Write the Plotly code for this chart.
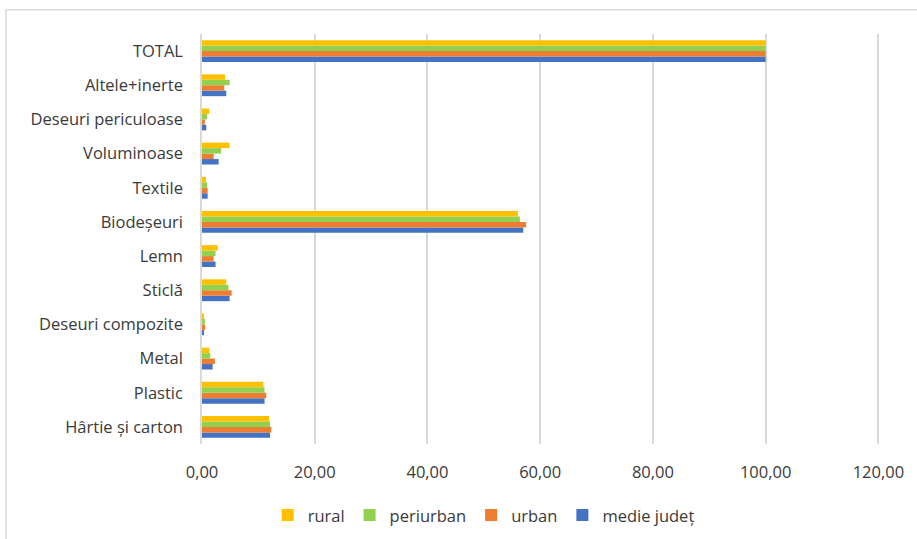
import plotly.graph_objects as go

categories = ["Hârtie și carton", "Plastic", "Metal", "Deseuri compozite", "Sticlă", "Lemn",
              "Biodeșeuri", "Textile", "Voluminoase", "Deseuri periculoase", "Altele+inerte", "TOTAL"]

rural =     [11.9, 10.9, 1.3, 0.23, 4.3, 2.8, 56.05, 0.7, 4.9, 1.3, 4.1, 100.0]
periurban = [12.07, 11.1, 1.47, 0.5, 4.7, 2.4, 56.4, 0.9, 3.4, 0.9, 4.9, 100.0]
urban =     [12.3, 11.4, 2.3, 0.57, 5.26, 2.06, 57.5, 1.0, 2.07, 0.5, 3.96, 100.0]
medie =     [12.07, 11.1, 1.88, 0.35, 4.9, 2.4, 57.0, 1.0, 2.95, 0.76, 4.3, 100.0]

series = [
    ("medie județ", medie, "#4472C4"),
    ("urban", urban, "#ED7D31"),
    ("periurban", periurban, "#92D050"),
    ("rural", rural, "#FFC000"),
]

fig = go.Figure()
for name, vals, color in series:
    fig.add_trace(go.Bar(y=categories, x=vals, name=name, orientation="h",
                         marker=dict(color=color, line=dict(width=0))))

FONT = "Open Sans"
TXT = "#3a3a3a"
FS = 16.5

# plot area: x=0 at px 202, x=120 at px 878; range extended to 121 so the 120 gridline shows
fig.update_layout(
    width=917, height=539,
    margin=dict(l=202, r=33, t=34, b=95, autoexpand=False),
    paper_bgcolor="white", plot_bgcolor="white",
    barmode="group", bargap=0.36, bargroupgap=0,
    separators=",.",
    font=dict(family=FONT, size=FS, color=TXT),
    xaxis=dict(range=[0, 121], tickvals=[0, 20, 40, 60, 80, 100, 120], tickformat=".2f",
               showgrid=True, gridcolor="#d9d9d9", gridwidth=1.5, zeroline=False, showline=False,
               ticks="", ticklabelstandoff=16, automargin=False,
               tickfont=dict(size=FS, color=TXT), fixedrange=True),
    yaxis=dict(showgrid=False, showline=True, linecolor="#d9d9d9", linewidth=1.5,
               ticks="", ticklabelstandoff=14, automargin=False,
               tickfont=dict(size=FS, color=TXT),
               categoryorder="array", categoryarray=categories),
    legend=dict(orientation="h", traceorder="reversed", x=0.413, xanchor="center",
                y=-0.174, yanchor="middle", itemwidth=30, font=dict(size=FS, color=TXT)),
    showlegend=True,
)

# outer chart border (top and left edges visible in the reference)
fig.add_shape(type="line", xref="paper", yref="paper", x0=-0.2875, x1=1.2, y0=1.059, y1=1.059,
              line=dict(color="#d9d9d9", width=1.5))
fig.add_shape(type="line", xref="paper", yref="paper", x0=-0.2875, x1=-0.2875, y0=1.059, y1=-0.3,
              line=dict(color="#d9d9d9", width=1.5))

fig.write_html("out.html")
